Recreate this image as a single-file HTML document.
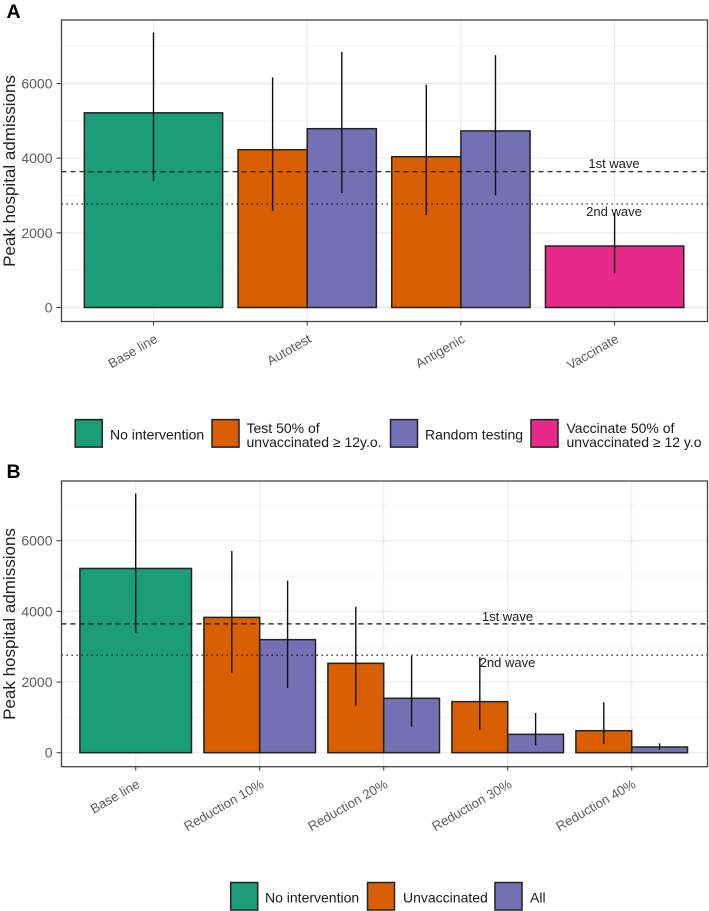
<!DOCTYPE html>
<html lang="en">
<head>
<meta charset="utf-8">
<title>Peak hospital admissions</title>
<style>
html,body{margin:0;padding:0;background:#fff;}
body{width:709px;height:911px;overflow:hidden;}
svg{display:block;font-family:"Liberation Sans",Arial,sans-serif;}
</style>
</head>
<body>
<svg id="figure" width="709" height="911" viewBox="0 0 709 911" xmlns="http://www.w3.org/2000/svg"></svg>
<script>
// Shared data
const yMajorTicks = [0, 2000, 4000, 6000];
const yMinorTicks = [1000, 3000, 5000, 7000];
const colorNone = '#1B9E77';
const colorOrange = '#D95F02';
const colorPurple = '#7570B3';
const colorPink = '#E7298A';

// Panel A data
const categoriesA = ['Base line', 'Autotest', 'Antigenic', 'Vaccinate'];
const seriesNamesA = ['baseline', 'unvaccinated-test', 'random-test', 'vaccinate'];
const meansA = [[5215, null, null, null], [null, 4227, 4790, null], [null, 4040, 4730, null], [null, null, null, 1647]];
const lowsA = [[3388, null, null, null], [null, 2593, 3067, null], [null, 2478, 3005, null], [null, null, null, 916]];
const highsA = [[7370, null, null, null], [null, 6166, 6845, null], [null, 5970, 6760, null], [null, null, null, 2540]];
const wavesA = [3638, 2772];

// Panel B data
const categoriesB = ['Base line', 'Reduction 10%', 'Reduction 20%', 'Reduction 30%', 'Reduction 40%'];
const seriesNamesB = ['baseline', 'unvaccinated', 'all'];
const meansB = [[5215, null, null], [null, 3830, 3200], [null, 2530, 1540], [null, 1445, 520], [null, 623, 161]];
const lowsB = [[3390, null, null], [null, 2260, 1830], [null, 1330, 737], [null, 643, 210], [null, 246, 80]];
const highsB = [[7337, null, null], [null, 5710, 4870], [null, 4130, 2740], [null, 2700, 1125], [null, 1427, 266]];
const wavesB = [3646, 2760];

const waveLabels = ['1st wave', '2nd wave'];
const NS = 'http://www.w3.org/2000/svg';
const root = document.getElementById('figure');

function mk(parent, tag, attrs, name, text) {
  const el = document.createElementNS(NS, tag);
  for (const k in attrs) el.setAttribute(k, attrs[k]);
  
  
  if (text !== undefined) el.textContent = text;
  parent.appendChild(el);
  return el;
}

function drawPanel(cfg) {
  const g = mk(root, 'g', {}, 'panel-' + cfg.id);
  const yOf = v => cfg.zeroY - v * cfg.yScale;
  const xOf = i => cfg.firstX + i * cfg.stepX;
  const L = 61.5, R = 707.5;

  yMinorTicks.forEach(v => mk(g, 'line', {x1:L,x2:R,y1:yOf(v),y2:yOf(v),stroke:'#f1f1f1','stroke-width':1}, 'minor-gridline-' + v));
  yMajorTicks.forEach(v => mk(g, 'line', {x1:L,x2:R,y1:yOf(v),y2:yOf(v),stroke:'#ebebeb','stroke-width':1.2}, 'major-gridline-' + v));
  cfg.categories.forEach((c, i) => mk(g, 'line', {x1:xOf(i),x2:xOf(i),y1:cfg.top,y2:cfg.bottom,stroke:'#ebebeb','stroke-width':1.2}, 'vertical-gridline-' + i));

  const barW = cfg.stepX * 0.9;
  cfg.means.forEach((row, i) => {
    const active = [];
    row.forEach((v, s) => { if (v !== null) active.push(s); });
    const w = barW / active.length;
    active.forEach((s, k) => {
      const x0 = xOf(i) - barW / 2 + k * w;
      mk(g, 'rect', {x:x0,y:yOf(row[s]),width:w,height:yOf(0)-yOf(row[s]),fill:cfg.colors[s],stroke:'#222','stroke-width':1.5}, 'bar-' + cfg.seriesNames[s] + '-' + i);
    });
  });

  mk(g, 'line', {x1:L,x2:R,y1:yOf(cfg.waves[0]),y2:yOf(cfg.waves[0]),stroke:'#111','stroke-width':1.2,'stroke-dasharray':'5 4'}, 'first-wave-line');
  mk(g, 'line', {x1:L,x2:R,y1:yOf(cfg.waves[1]),y2:yOf(cfg.waves[1]),stroke:'#111','stroke-width':1.3,'stroke-dasharray':'1.3 3.7'}, 'second-wave-line');

  cfg.means.forEach((row, i) => {
    const active = [];
    row.forEach((v, s) => { if (v !== null) active.push(s); });
    const w = barW / active.length;
    active.forEach((s, k) => {
      const cx = xOf(i) - barW / 2 + (k + 0.5) * w;
      mk(g, 'line', {x1:cx,x2:cx,y1:yOf(cfg.highs[i][s]),y2:yOf(cfg.lows[i][s]),stroke:'#111','stroke-width':1.4}, 'error-bar-' + cfg.seriesNames[s] + '-' + i);
    });
  });

  mk(g, 'text', {x:cfg.waveLabelX,y:cfg.waveLabelY[0],'font-size':13,fill:'#222','text-anchor':'middle'}, 'first-wave-label', waveLabels[0]);
  mk(g, 'text', {x:cfg.waveLabelX,y:cfg.waveLabelY[1],'font-size':13,fill:'#222','text-anchor':'middle'}, 'second-wave-label', waveLabels[1]);

  mk(g, 'rect', {x:L,y:cfg.top,width:R-L,height:cfg.bottom-cfg.top,fill:'none',stroke:'#444','stroke-width':1.3}, 'panel-border');

  yMajorTicks.forEach(v => {
    mk(g, 'line', {x1:L-5,x2:L,y1:yOf(v),y2:yOf(v),stroke:'#444','stroke-width':1.1}, 'y-tick-' + v);
    mk(g, 'text', {x:L-9,y:yOf(v)+5,'font-size':14,fill:'#5c5c5c','text-anchor':'end'}, 'y-tick-label-' + v, String(v));
  });

  cfg.categories.forEach((c, i) => {
    mk(g, 'line', {x1:xOf(i),x2:xOf(i),y1:cfg.bottom,y2:cfg.bottom+4,stroke:'#444','stroke-width':1.1}, 'x-tick-' + i);
    const tx = xOf(i) + 5, ty = cfg.bottom + 20;
    mk(g, 'text', {x:tx,y:ty,'font-size':13.2,fill:'#5c5c5c','text-anchor':'end',transform:'rotate(-30 ' + tx + ' ' + ty + ')'}, 'x-tick-label-' + i, c);
  });

  mk(g, 'text', {x:15,y:cfg.titleY,'font-size':17,fill:'#222','text-anchor':'middle',transform:'rotate(-90 15 ' + cfg.titleY + ')'}, 'y-axis-title', 'Peak hospital admissions');
  mk(g, 'text', {x:6.5,y:cfg.letterY,'font-size':19.5,'font-weight':'bold',fill:'#000'}, 'panel-letter', cfg.id);
}

function drawLegend(id, entries) {
  const g = mk(root, 'g', {}, 'legend-' + id);
  entries.forEach((e, n) => {
    const item = mk(g, 'g', {}, 'legend-entry-' + n);
    mk(item, 'rect', {x:e.x,y:e.y,width:27,height:27.5,fill:e.color,stroke:'#222','stroke-width':1.5}, 'legend-swatch-' + n);
    const cy = e.y + 14;
    if (e.lines.length === 1) {
      mk(item, 'text', {x:e.tx,y:cy+6,'font-size':14,fill:'#1a1a1a'}, 'legend-label-' + n, e.lines[0]);
    } else {
      mk(item, 'text', {x:e.tx,y:cy-0.5,'font-size':14,fill:'#1a1a1a'}, 'legend-label-' + n + '-line-1', e.lines[0]);
      mk(item, 'text', {x:e.tx,y:cy+13.5,'font-size':14,fill:'#1a1a1a'}, 'legend-label-' + n + '-line-2', e.lines[1]);
    }
  });
}

drawPanel({
  id:'A', top:20, bottom:321.5, zeroY:307.5, yScale:0.03733, firstX:153.5, stepX:153.7,
  categories:categoriesA, means:meansA, lows:lowsA, highs:highsA, waves:wavesA,
  seriesNames:seriesNamesA, colors:[colorNone,colorOrange,colorPurple,colorPink],
  waveLabelX:614, waveLabelY:[168,216], titleY:171, letterY:18
});
drawPanel({
  id:'B', top:481, bottom:766.7, zeroY:752.7, yScale:0.03533, firstX:135.7, stepX:124,
  categories:categoriesB, means:meansB, lows:lowsB, highs:highsB, waves:wavesB,
  seriesNames:seriesNamesB, colors:[colorNone,colorOrange,colorPurple],
  waveLabelX:507.5, waveLabelY:[621,667], titleY:624, letterY:478
});

drawLegend('a', [
  {x:75.2,y:419.6,color:colorNone,tx:110,lines:['No intervention']},
  {x:212,y:419.6,color:colorOrange,tx:246.5,lines:['Test 50% of','unvaccinated ≥ 12y.o.']},
  {x:390.5,y:419.6,color:colorPurple,tx:425,lines:['Random testing']},
  {x:531,y:419.6,color:colorPink,tx:566.5,lines:['Vaccinate 50% of','unvaccinated ≥ 12 y.o']}
]);
drawLegend('b', [
  {x:230.7,y:882.5,color:colorNone,tx:265,lines:['No intervention']},
  {x:367.5,y:882.5,color:colorOrange,tx:403,lines:['Unvaccinated']},
  {x:495,y:882.5,color:colorPurple,tx:530,lines:['All']}
]);
</script>
</body>
</html>
